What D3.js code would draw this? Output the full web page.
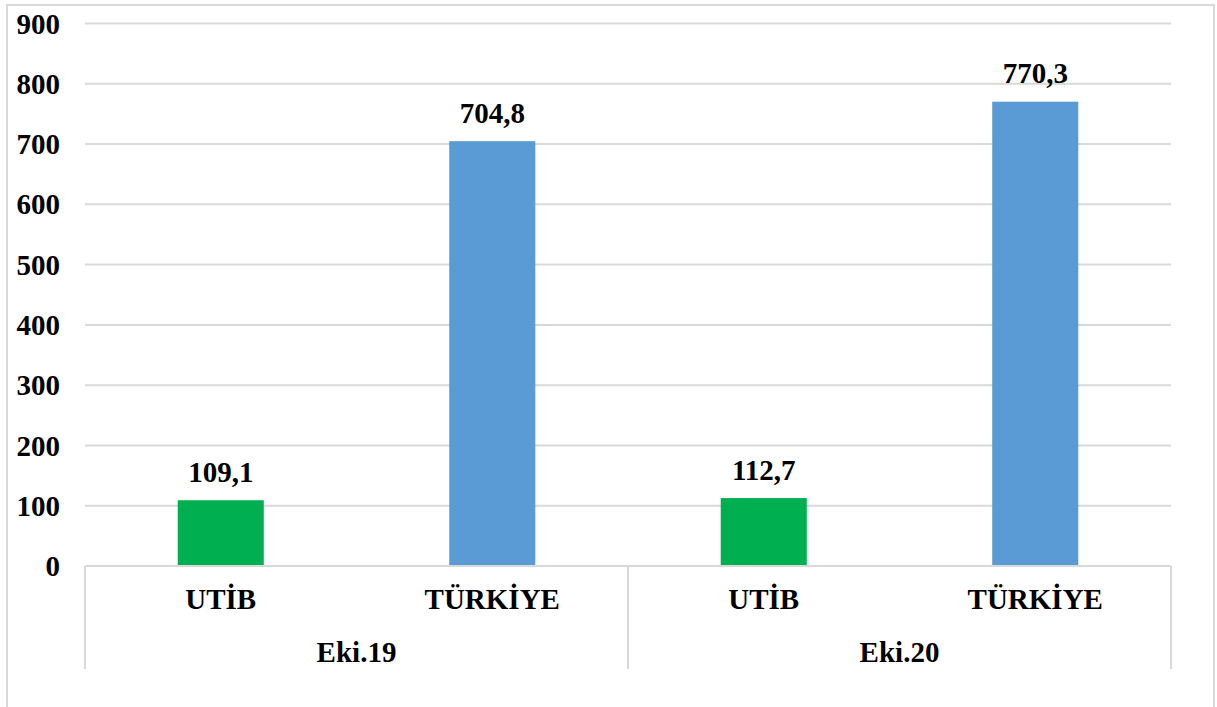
<!DOCTYPE html>
<html>
<head>
<meta charset="utf-8">
<script src="https://cdn.jsdelivr.net/npm/d3@7"></script>
<style>
  html, body { margin: 0; padding: 0; background: #ffffff; }
  svg { display: block; }
  text { font-family: "Liberation Serif", "Times New Roman", serif; font-weight: bold; fill: #000000; }
</style>
</head>
<body>
<svg id="chart" width="1217" height="707"></svg>
<script>
// ---- data ----
const periods = ["Eki.19", "Eki.20"];
const entities = ["UTİB", "TÜRKİYE"];
const utibValues = [109.1, 112.7];
const turkiyeValues = [704.8, 770.3];
const yTicks = [0, 100, 200, 300, 400, 500, 600, 700, 800, 900];
const entityColors = ["#00B050", "#5B9BD5"];

// build rows
const rows = [];
periods.forEach((p, i) => {
  rows.push({ period: p, entity: entities[0], value: utibValues[i], key: p + "|" + entities[0], color: entityColors[0] });
  rows.push({ period: p, entity: entities[1], value: turkiyeValues[i], key: p + "|" + entities[1], color: entityColors[1] });
});

const svg = d3.select("#chart");
const plot = { left: 85, right: 1171, top: 23.5, bottom: 566 };
const gridColor = "#d9d9d9";
const fontSize = 29;

// outer border (bottom edge falls outside the window, as in the reference)
svg.append("rect")
  .attr("x", 7).attr("y", 5).attr("width", 1207).attr("height", 710)
  .attr("fill", "none").attr("stroke", gridColor).attr("stroke-width", 2);

const y = d3.scaleLinear().domain([0, 900]).range([plot.bottom, plot.top]);
const x = d3.scaleBand().domain(rows.map(d => d.key)).range([plot.left, plot.right]).padding(0);
const xp = d3.scaleBand().domain(periods).range([plot.left, plot.right]).padding(0);
const barFrac = 0.317;
const barW = x.bandwidth() * barFrac;

// gridlines
svg.append("g").selectAll("line").data(yTicks.filter(t => t > 0)).join("line")
  .attr("x1", plot.left).attr("x2", plot.right)
  .attr("y1", d => y(d)).attr("y2", d => y(d))
  .attr("stroke", gridColor).attr("stroke-width", 2);

// y axis labels
const yAxis = d3.axisLeft(y).tickValues(yTicks).tickSize(0).tickPadding(0).tickFormat(d3.format("d"));
const yg = svg.append("g").attr("transform", `translate(60,0)`).call(yAxis);
yg.attr("font-family", null).attr("font-size", null);
yg.select(".domain").remove();
yg.selectAll("text")
  .attr("font-size", fontSize).attr("fill", "#000")
  .attr("dy", "0.33em");

// bars
svg.append("g").selectAll("rect").data(rows).join("rect")
  .attr("x", d => x(d.key) + (x.bandwidth() - barW) / 2)
  .attr("width", barW)
  .attr("y", d => y(d.value))
  .attr("height", d => y(0) - y(d.value))
  .attr("fill", d => d.color);

// value labels
const fmt = v => d3.format(".1f")(v).replace(".", ",");
svg.append("g").selectAll("text").data(rows).join("text")
  .attr("x", d => x(d.key) + x.bandwidth() / 2)
  .attr("y", d => y(d.value) - 18.5)
  .attr("text-anchor", "middle")
  .attr("font-size", fontSize)
  .text(d => fmt(d.value));

// category axis line
svg.append("line")
  .attr("x1", plot.left).attr("x2", plot.right)
  .attr("y1", y(0)).attr("y2", y(0))
  .attr("stroke", gridColor).attr("stroke-width", 2);

// separators
const sepX = [plot.left].concat(periods.map(p => xp(p) + xp.bandwidth()));
svg.append("g").selectAll("line").data(sepX).join("line")
  .attr("x1", d => d).attr("x2", d => d)
  .attr("y1", y(0)).attr("y2", 669)
  .attr("stroke", gridColor).attr("stroke-width", 2);

// entity labels
svg.append("g").selectAll("text").data(rows).join("text")
  .attr("x", d => x(d.key) + x.bandwidth() / 2)
  .attr("y", 609)
  .attr("text-anchor", "middle")
  .attr("font-size", fontSize)
  .text(d => d.entity);

// period labels
svg.append("g").selectAll("text").data(periods).join("text")
  .attr("x", d => xp(d) + xp.bandwidth() / 2)
  .attr("y", 662)
  .attr("text-anchor", "middle")
  .attr("font-size", fontSize)
  .text(d => d);
</script>
</body>
</html>
